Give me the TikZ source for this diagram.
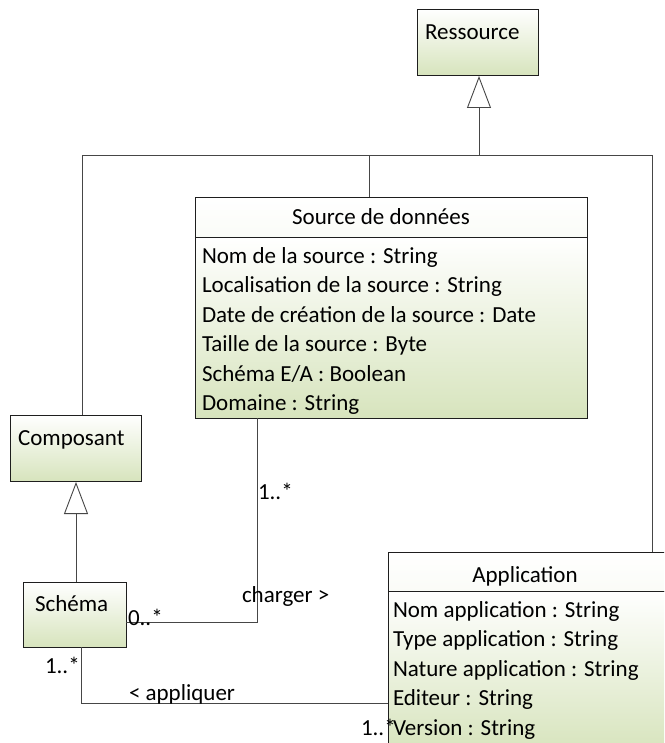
\documentclass[tikz,border=0pt]{standalone}
\usepackage{fontspec}
\setmainfont{Carlito}
\usetikzlibrary{arrows.meta}
\definecolor{umlgreen}{RGB}{215,228,189}
\definecolor{linegray}{RGB}{70,70,70}
\definecolor{boxline}{RGB}{30,30,30}
\begin{document}
\begin{tikzpicture}[x=1pt,y=-1pt,
  every node/.style={font=\fontsize{23}{29.5}\selectfont, inner sep=0pt, outer sep=0pt},
  classbox/.style={draw=boxline, line width=0.9pt, anchor=north west, top color=white, bottom color=umlgreen},
  headbox/.style={draw=boxline, line width=0.9pt, anchor=north west, top color=white, bottom color=umlgreen!12},
  lbl/.style={anchor=base west, text=black},
  assoc/.style={draw=linegray, line width=0.9pt},
  gen/.style={assoc, -{Triangle[open, length=32pt, width=24pt, fill=white]}}]
\useasboundingbox (0,0) rectangle (664,743);
\clip (0,0) rectangle (664,743);
\fill[white] (0,0) rectangle (664,743);

% Ressource
\node[classbox, minimum width=121, minimum height=66] (res) at (417,9) {};
\node[lbl] (resT) at (425,40) {Ressource};

% Source de donnees
\node[headbox, minimum width=392, minimum height=40] (src) at (195,197) {};
\node[classbox, minimum width=392, minimum height=181] (srcb) at (195,237) {};
\node[anchor=base] (srcT) at (381,225) {Source de données};
\node[lbl] (s1) at (202,263) {Nom de la source : String};
\node[lbl] (s2) at (202,292.5) {Localisation de la source : String};
\node[lbl] (s3) at (202,322) {Date de création de la source : Date};
\node[lbl] (s4) at (202,351.5) {Taille de la source : Byte};
\node[lbl] (s5) at (202,381) {Schéma E/A : Boolean};
\node[lbl] (s6) at (202,410.5) {Domaine : String};

% Composant
\node[classbox, minimum width=131, minimum height=66] (comp) at (10,415) {};
\node[lbl] (compT) at (18,445) {Composant};

% Schema
\node[classbox, minimum width=103, minimum height=65] (sch) at (23,582) {};
\node[lbl] (schT) at (35,611) {Schéma};

% Application
\node[headbox, minimum width=282, minimum height=39] (apph) at (388,552) {};
\node[classbox, minimum width=282, minimum height=160] (appb) at (388,591) {};
\node[anchor=base] (appT) at (525,582) {Application};
\node[lbl] (a1) at (393,617) {Nom application : String};
\node[lbl] (a2) at (393,646.5) {Type application : String};
\node[lbl] (a3) at (393,676) {Nature application : String};
\node[lbl] (a4) at (393,705.5) {Editeur : String};
\node[lbl] (a5) at (393,735) {Version : String};

% Generalisation hub
\coordinate (hubL) at (82,155.5);
\coordinate (hubS) at (369,155.5);
\coordinate (hubT) at (479,155.5);
\coordinate (hubR) at (652,155.5);
\draw[assoc] (hubL |- comp.north) -- (hubL) -- (hubR) -- (hubR |- apph.north);
\draw[assoc] (hubS) -- (hubS |- src.north);
\draw[gen] (hubT) -- ([yshift=-1pt]hubT |- res.south);

% Composant <- Schema
\coordinate (schTop) at (76,582);
\draw[gen] (schTop) -- ([yshift=-1pt]schTop |- comp.south);

% charger association
\coordinate (chB) at (257,622);
\draw[assoc] (srcb.south -| chB) -- (chB) -- (chB -| sch.east);
\node[lbl] (m1) at (258,499) {1..*};
\node[lbl] (chL) at (242,602) {charger >};
\node[lbl] (m2) at (128,625) {0..*};

% appliquer association
\coordinate (apB) at (81,703);
\draw[assoc] (sch.south -| apB) -- (apB) -- (apB -| appb.west);
\node[lbl] (m3) at (45,673) {1..*};
\node[lbl] (apL) at (129,700) {< appliquer};
\node[lbl] (m4) at (361,735) {1..*};
\end{tikzpicture}
\end{document}
